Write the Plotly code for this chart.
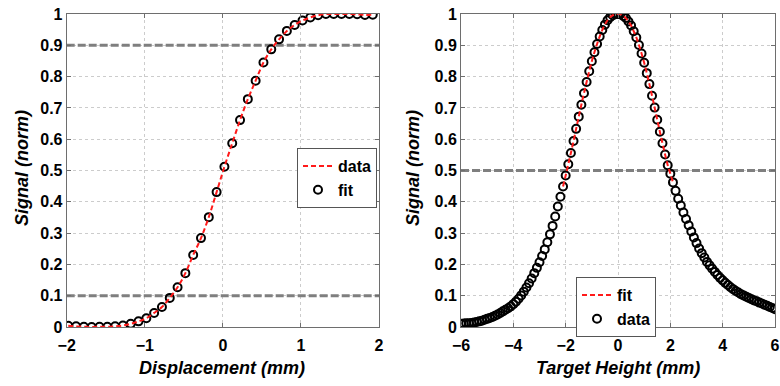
import plotly.graph_objects as go

# ---------------- data ----------------
# Left panel: displacement scan
disp_x = [-1.98, -1.88, -1.78, -1.68, -1.58, -1.48, -1.38, -1.28, -1.18, -1.08,
          -0.98, -0.88, -0.78, -0.68, -0.58, -0.48, -0.38, -0.28, -0.18, -0.08,
          0.02, 0.12, 0.22, 0.32, 0.42, 0.52, 0.62, 0.72, 0.82, 0.92,
          1.02, 1.12, 1.22, 1.32, 1.42, 1.52, 1.62, 1.72, 1.82, 1.92]
disp_y = [0.004, 0.002, 0.001, 0.000, 0.001, 0.001, 0.002, 0.005, 0.010, 0.018,
          0.028, 0.045, 0.064, 0.093, 0.127, 0.172, 0.230, 0.284, 0.351, 0.431,
          0.512, 0.587, 0.661, 0.728, 0.787, 0.845, 0.887, 0.919, 0.946, 0.965,
          0.979, 0.989, 0.996, 1.000, 1.000, 1.000, 1.000, 0.999, 0.997, 0.998]
left_thresholds = [0.9, 0.1]

# Right panel: target height scan
height_x = [-6.0, -5.9, -5.8, -5.7, -5.6, -5.5, -5.4, -5.3, -5.2, -5.1,
            -5.0, -4.9, -4.8, -4.7, -4.6, -4.5, -4.4, -4.3, -4.2, -4.1,
            -4.0, -3.9, -3.8, -3.7, -3.6, -3.5, -3.4, -3.3, -3.2, -3.1,
            -3.0, -2.9, -2.8, -2.7, -2.6, -2.5, -2.4, -2.3, -2.2, -2.1,
            -2.0, -1.9, -1.8, -1.7, -1.6, -1.5, -1.4, -1.3, -1.2, -1.1,
            -1.0, -0.9, -0.8, -0.7, -0.6, -0.5, -0.4, -0.3, -0.2, -0.1,
            0.0, 0.1, 0.2, 0.3, 0.4, 0.5, 0.6, 0.7, 0.8, 0.9,
            1.0, 1.1, 1.2, 1.3, 1.4, 1.5, 1.6, 1.7, 1.8, 1.9,
            2.0, 2.1, 2.2, 2.3, 2.4, 2.5, 2.6, 2.7, 2.8, 2.9,
            3.0, 3.1, 3.2, 3.3, 3.4, 3.5, 3.6, 3.7, 3.8, 3.9,
            4.0, 4.1, 4.2, 4.3, 4.4, 4.5, 4.6, 4.7, 4.8, 4.9,
            5.0, 5.1, 5.2, 5.3, 5.4, 5.5, 5.6, 5.7, 5.8, 5.9, 6.0]
height_y = [0.010, 0.011, 0.012, 0.012, 0.013, 0.014, 0.016, 0.018, 0.020, 0.023,
            0.026, 0.029, 0.032, 0.036, 0.040, 0.045, 0.050, 0.055, 0.060, 0.066,
            0.073, 0.081, 0.090, 0.101, 0.113, 0.126, 0.140, 0.155, 0.172, 0.189,
            0.207, 0.227, 0.248, 0.271, 0.296, 0.323, 0.353, 0.385, 0.416, 0.449,
            0.484, 0.520, 0.556, 0.594, 0.633, 0.672, 0.710, 0.747, 0.783, 0.817,
            0.849, 0.878, 0.904, 0.928, 0.949, 0.966, 0.980, 0.990, 0.996, 0.999,
            1.000, 0.999, 0.994, 0.987, 0.976, 0.963, 0.945, 0.925, 0.901, 0.874,
            0.844, 0.811, 0.776, 0.739, 0.701, 0.662, 0.624, 0.587, 0.551, 0.517,
            0.490, 0.462, 0.435, 0.410, 0.388, 0.366, 0.345, 0.325, 0.305, 0.286,
            0.268, 0.251, 0.236, 0.222, 0.208, 0.197, 0.186, 0.176, 0.166, 0.157,
            0.149, 0.141, 0.134, 0.127, 0.121, 0.115, 0.110, 0.105, 0.101, 0.097,
            0.093, 0.089, 0.085, 0.082, 0.078, 0.075, 0.071, 0.068, 0.064, 0.061, 0.057]
fit_range = [-2.1, 2.1]
right_thresholds = [0.5]

y_ticks = [0, 0.1, 0.2, 0.3, 0.4, 0.5, 0.6, 0.7, 0.8, 0.9, 1]
y_ticktext = ["0", "0.1", "0.2", "0.3", "0.4", "0.5", "0.6", "0.7", "0.8", "0.9", "1"]
left_xticks = [-2, -1, 0, 1, 2]
right_xticks = [-6, -4, -2, 0, 2, 4, 6]

# ---------------- styling ----------------
FONT = "Liberation Sans, Arial, sans-serif"
RED = "#ff1a1a"
GREY_DASH = "#7f7f7f"
W, H = 780, 386
ydom = [(H - 327) / H, (H - 14) / H]
x1dom = [66.7 / W, 379 / W]
x2dom = [461 / W, 775 / W]

fig = go.Figure()

# Left: threshold lines
for t in left_thresholds:
    fig.add_trace(go.Scatter(x=[-2, 2], y=[t, t], mode="lines", xaxis="x", yaxis="y",
                             line=dict(color=GREY_DASH, width=3, dash="8px,3px"),
                             showlegend=False, hoverinfo="skip"))
# Left: circles ("fit")
fig.add_trace(go.Scatter(x=disp_x, y=disp_y, mode="markers", name="fit",
                         xaxis="x", yaxis="y", legend="legend", legendrank=2,
                         marker=dict(symbol="circle-open", size=8, color="black",
                                     line=dict(width=2, color="black"))))
# Left: red dashed ("data")
fig.add_trace(go.Scatter(x=disp_x, y=disp_y, mode="lines", name="data",
                         xaxis="x", yaxis="y", legend="legend", legendrank=1,
                         line=dict(color=RED, width=2, dash="5px,3px", shape="spline")))

# Right: threshold
for t in right_thresholds:
    fig.add_trace(go.Scatter(x=[-6, 6], y=[t, t], mode="lines", xaxis="x2", yaxis="y2",
                             line=dict(color=GREY_DASH, width=3, dash="8px,3px"),
                             showlegend=False, hoverinfo="skip"))
# Right: circles ("data")
fig.add_trace(go.Scatter(x=height_x, y=height_y, mode="markers", name="data",
                         xaxis="x2", yaxis="y2", legend="legend2", legendrank=2,
                         marker=dict(symbol="circle-open", size=8, color="black",
                                     line=dict(width=2, color="black"))))
# Right: red dashed fit over central region
fx = [x for x in height_x if fit_range[0] <= x <= fit_range[1]]
fy = [y for x, y in zip(height_x, height_y) if fit_range[0] <= x <= fit_range[1]]
fig.add_trace(go.Scatter(x=fx, y=fy, mode="lines", name="fit",
                         xaxis="x2", yaxis="y2", legend="legend2", legendrank=1,
                         line=dict(color=RED, width=2, dash="5px,3px", shape="spline")))

axis_common = dict(showline=True, linecolor="#6e6e6e", linewidth=1, mirror="ticks",
                   ticks="inside", ticklen=4, tickcolor="#6e6e6e",
                   showgrid=True, gridcolor="#cccccc", griddash="dot", gridwidth=1,
                   zeroline=False, automargin=False,
                   tickfont=dict(family=FONT, size=16, color="black", weight="bold"))

legend_common = dict(bgcolor="white", bordercolor="#555555", borderwidth=1,
                     font=dict(family=FONT, size=16, color="black", weight="bold"),
                     traceorder="normal", itemwidth=30, tracegroupgap=0)

fig.update_layout(
    width=W, height=H, margin=dict(l=0, r=0, t=0, b=0, pad=0, autoexpand=False),
    paper_bgcolor="white", plot_bgcolor="white",
    xaxis=dict(domain=x1dom, range=[-2, 2], tickvals=left_xticks, anchor="y",
               ticklabelstandoff=4, **axis_common),
    yaxis=dict(domain=ydom, range=[0, 1], tickvals=y_ticks, ticktext=y_ticktext,
               anchor="x", **axis_common),
    xaxis2=dict(domain=x2dom, range=[-6, 6], tickvals=right_xticks, anchor="y2",
                ticklabelstandoff=4, **axis_common),
    yaxis2=dict(domain=ydom, range=[0, 1], tickvals=y_ticks, ticktext=y_ticktext,
                anchor="x2", **axis_common),
    legend=dict(x=377 / W, xanchor="right", y=1 - 148 / H, yanchor="top", **legend_common),
    legend2=dict(x=576 / W, xanchor="left", y=1 - 277 / H, yanchor="top", **legend_common),
    showlegend=True,
)

title_font = dict(family=FONT, size=18, color="black", weight="bold", style="italic")
annotations = [
    dict(text="Displacement (mm)", x=222 / W, y=1 - 368 / H, xref="paper", yref="paper",
         xanchor="center", yanchor="middle", showarrow=False, font=title_font),
    dict(text="Target Height (mm)", x=618 / W, y=1 - 368 / H, xref="paper", yref="paper",
         xanchor="center", yanchor="middle", showarrow=False, font=title_font),
    dict(text="Signal (norm)", x=22 / W, y=1 - 168 / H, xref="paper", yref="paper",
         xanchor="center", yanchor="middle", showarrow=False, textangle=-90, font=title_font),
    dict(text="Signal (norm)", x=413 / W, y=1 - 168 / H, xref="paper", yref="paper",
         xanchor="center", yanchor="middle", showarrow=False, textangle=-90, font=title_font),
]
fig.update_layout(annotations=annotations)

fig.write_html("out.html")
